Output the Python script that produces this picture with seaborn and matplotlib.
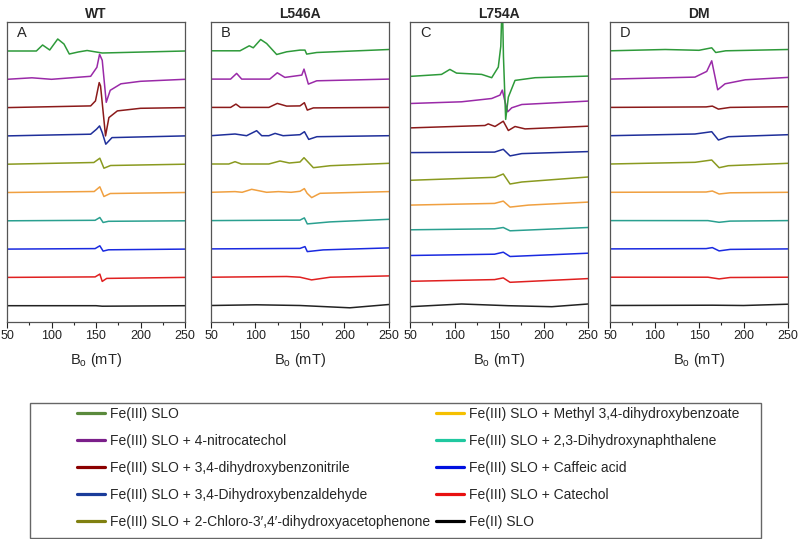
import matplotlib.pyplot as plt
import pandas as pd
import seaborn as sns
from matplotlib.lines import Line2D
from matplotlib.patches import Rectangle
from matplotlib.ticker import MultipleLocator

sns.set_style('ticks')
plt.rcParams['font.family'] = ['Liberation Sans', 'DejaVu Sans']

# sample keys, legend labels and colours (top trace first)
keys = ['FeIII', 'nitro', 'nitrile', 'aldehyde', 'chloro',
        'methyl', 'naphth', 'caffeic', 'catechol', 'FeII']
labels = ['Fe(III) SLO',
          'Fe(III) SLO + 4-nitrocatechol',
          'Fe(III) SLO + 3,4-dihydroxybenzonitrile',
          'Fe(III) SLO + 3,4-Dihydroxybenzaldehyde',
          'Fe(III) SLO + 2-Chloro-3\u2032,4\u2032-dihydroxyacetophenone',
          'Fe(III) SLO + Methyl 3,4-dihydroxybenzoate',
          'Fe(III) SLO + 2,3-Dihydroxynaphthalene',
          'Fe(III) SLO + Caffeic acid',
          'Fe(III) SLO + Catechol',
          'Fe(II) SLO']
trace_colors = ['#2e9a3a', '#9a2aa8', '#8b1a1a', '#1f2f9a', '#8a9a20',
                '#f0a040', '#2aa090', '#1a2ae0', '#e02020', '#222222']
legend_colors = ['#5a8a3c', '#7b1f8a', '#8b0000', '#1a3c9a', '#808010',
                 '#f5c000', '#20c8a0', '#0010e0', '#e81010', '#000000']
titles = ['WT', 'L546A', 'L754A', 'DM']
letters = ['A', 'B', 'C', 'D']

# spectra: (field in mT, signal in a.u.)
wt = {
    'FeIII': ([50, 83, 90, 98, 107, 114, 120, 130, 140, 157, 250],
              [0, 0, 6, 1, 12, 7, -3, -1, 0.5, -2, 0]),
    'nitro': ([50, 78, 100, 144, 151, 154, 157, 161.5, 166, 178, 200, 250],
              [0, 1.5, 0, 3, 12, 25, 19, -23, -11, -4.5, -2, 0]),
    'nitrile': ([50, 144, 149.4, 153.6, 155.1, 160.7, 164.5, 174, 200, 250],
                [0, 1.7, 6.7, 25, 21.7, -28.3, -10, -3.3, -0.7, 0]),
    'aldehyde': ([50, 104, 144, 150.6, 154, 157, 161, 168, 250],
                 [0, 1, 1.7, 6.7, 10, 3.3, -8.3, -1.7, 0]),
    'chloro': ([50, 147.6, 154.3, 158.9, 166.4, 250],
               [0, 1.7, 6, -4, -1.3, 0]),
    'methyl': ([50, 148, 154.3, 158.9, 166, 250],
               [0, 1, 5.7, -4, -1, 0]),
    'naphth': ([50, 149, 154.3, 158, 164, 250],
               [0, 0.5, 3.3, -1.7, -0.5, 0]),
    'caffeic': ([50, 149, 154.3, 158, 164, 250],
                [0, 0.5, 3.3, -2, -0.7, 0]),
    'catechol': ([50, 149, 154.3, 157, 162, 250],
                 [0, 0.5, 3.3, -4, -1, 0]),
    'FeII': ([50, 150, 157, 250],
             [0, 0, -0.5, 0]),
}

l546a = {
    'FeIII': ([50, 82.6, 93, 97.5, 105.8, 112.5, 123.8, 135, 150, 155.6, 157.5, 168.8, 250],
              [0, 0, 5, 3, 11.3, 7.3, -3.7, -1, 0.7, 0.7, -3.3, -1.7, 1.3]),
    'nitro': ([50, 72, 78.8, 84.5, 116, 124.5, 133, 152, 154.5, 159.4, 168.8, 250],
              [0, 0, 5.7, 0, 0, 6.3, 1.7, 4, 10, -5, -1.7, 0]),
    'nitrile': ([50, 72, 78, 83, 115, 124.5, 135, 150, 154.9, 158.2, 165, 250],
                [0, 0, 3.3, 0, 0, 4, 1.3, 1.5, 4.7, -2.7, -0.5, 0]),
    'aldehyde': ([50, 77, 90, 101.3, 107, 115, 122, 131, 150, 155, 159.8, 169, 250],
                 [0, 1.7, 0, 5, 0, 0, 2.3, 0, 1, 4, -3.7, -1, 0]),
    'chloro': ([50, 70, 77, 84, 115, 127.5, 138, 150, 154.5, 165, 184, 250],
               [0, 0, 2.3, 0, 0, 3, 1, 2, 6.3, -3.7, -1.7, 0.7]),
    'methyl': ([50, 77, 85, 95.7, 112.5, 125.7, 140, 150, 154.9, 158, 163.1, 172.5, 250],
               [0, 0.7, 0, 3, 0, 0.7, 0, 1, 3.7, -1, -5.3, -1, 0.7]),
    'naphth': ([50, 150, 154.9, 158.2, 183.7, 250],
               [0, 0.5, 2.7, -3.3, -1.3, 1.3]),
    'caffeic': ([50, 150, 155.6, 158.2, 176, 250],
                [0, 0.5, 2.3, -2.7, -1, 1]),
    'catechol': ([50, 135, 150, 163, 184, 250],
                 [0, 0.7, 0, -2.7, 0, 1.3]),
    'FeII': ([50, 101, 150, 206, 250],
             [0, 0.7, 0, -2.3, 1]),
}

l754a = {
    'FeIII': ([50, 85.4, 94.8, 102.3, 130.5, 141.8, 149.2, 152, 153.7, 155, 157.5, 160.5, 168, 190.6, 250],
              [0, 2, 7, 3.3, 2, -1.3, 9.3, 30, 80, 20, -43, -20.7, -4, -1.3, 0.3]),
    'nitro': ([50, 107.9, 141.8, 151.1, 153.7, 156.8, 159.8, 164.3, 175.6, 250],
              [-1.7, 0, 3.3, 6.7, 11.7, 0, -10, -6, -2.7, 0.7]),
    'nitrile': ([50, 134.2, 137.9, 145.5, 154.8, 160.5, 168, 179.3, 250],
                [-0.7, 1.7, 3.3, 0.7, 6, -3.3, 0.7, -1.7, 1]),
    'aldehyde': ([50, 145, 154.8, 162.4, 175.6, 250],
                 [0, 0.5, 3.3, -3.3, -1, 1]),
    'chloro': ([50, 145.5, 154.8, 162.4, 175.6, 250],
               [-2.3, 0.7, 4, -6, -4, 1]),
    'methyl': ([50, 145, 154.8, 162.4, 183, 250],
               [-1.7, 0, 2.3, -3.7, -1.7, 1.3]),
    'naphth': ([50, 145, 154.8, 162.4, 250],
               [-1, 0, 1.3, -2, 1.3]),
    'caffeic': ([50, 145, 154.8, 162.4, 250],
                [-1.3, 0, 2, -2.3, 1]),
    'catechol': ([50, 145, 154.8, 162.4, 250],
                 [-1.7, 0, 1.7, -2.7, 1]),
    'FeII': ([50, 108, 160.5, 209.4, 250],
             [-1.7, 1, -0.7, -1.7, 1]),
}

dm = {
    'FeIII': ([50, 112, 150, 164.3, 168.8, 180, 250],
              [0, 1.3, 0.5, 3, -1.7, 0, 1.3]),
    'nitro': ([50, 145.5, 158.7, 164.3, 171, 179.3, 202, 250],
              [0, 2, 7.7, 18.3, -10.7, -4.7, -0.7, 1.7]),
    'nitrile': ([50, 158, 165, 171.8, 185, 250],
                [0, 0.5, 1.3, -1.7, 0, 0.7]),
    'aldehyde': ([50, 145.5, 164.3, 171.8, 183, 250],
                 [0, 1.7, 4, -4.3, -1, 1]),
    'chloro': ([50, 145.5, 164.3, 172.6, 183, 250],
               [0, 1.7, 4, -3.7, -1.7, 0.7]),
    'methyl': ([50, 158, 165, 172.6, 185, 250],
               [0, 0.3, 1.3, -1.7, -0.5, 0]),
    'naphth': ([50, 160, 172.6, 185, 250],
               [0, 0, -1.7, -0.5, 0]),
    'caffeic': ([50, 158, 165, 172.6, 185, 250],
                [0, 0.3, 1.3, -2, -0.5, 0]),
    'catechol': ([50, 160, 172.6, 185, 250],
                 [0, 0, -1.7, -0.3, 0]),
    'FeII': ([50, 165, 200, 250],
             [0, 0.3, 0, 1.3]),
}

panels = [wt, l546a, l754a, dm]
# vertical stacking of the traces (bottom offset, spacing) per panel
stack = [(16.3, 28.3), (16.5, 28.3), (17, 25.4), (16.5, 28.3)]

fig = plt.figure(figsize=(8, 5.39), dpi=100)
lefts = [7, 211, 410, 610]
palette = dict(zip(keys, trace_colors))

for i, spectra in enumerate(panels):
    ax = fig.add_axes([lefts[i] / 800, 1 - 322 / 539, 178 / 800, 300 / 539])
    base, step = stack[i]
    rows = []
    for j, k in enumerate(keys):
        off = base + step * (9 - j)
        for b, s in zip(*spectra[k]):
            rows.append({'sample': k, 'field': b, 'y': s + off})
    df = pd.DataFrame(rows)

    sns.lineplot(data=df, x='field', y='y', hue='sample', hue_order=keys[::-1],
                 palette=palette, estimator=None, sort=False, legend=False,
                 lw=1.1, ax=ax)

    ax.set_xlim(50, 250)
    ax.set_ylim(0, 300)
    ax.set_yticks([])
    ax.set_ylabel('')
    ax.xaxis.set_major_locator(MultipleLocator(50))
    ax.xaxis.set_minor_locator(MultipleLocator(25))
    ax.tick_params(axis='x', which='major', direction='out', length=4,
                   width=0.8, labelsize=9, pad=2, colors='#222222')
    ax.tick_params(axis='x', which='minor', direction='out', length=2.5, width=0.8)
    for sp in ax.spines.values():
        sp.set_color('#555555')
        sp.set_linewidth(0.9)
    ax.set_xlabel(r'B$_\mathregular{o}$ (mT)', fontsize=10.5, labelpad=6)
    ax.set_title(titles[i], fontweight='bold', fontsize=10, pad=3)
    ax.text(0.055, 0.963, letters[i], transform=ax.transAxes,
            fontsize=10.5, va='center', ha='left')

# legend below the panels
handles = [Line2D([], [], color=c, lw=2.3) for c in legend_colors]
fig.legend(handles, labels, loc='upper left',
           bbox_to_anchor=(77 / 800, 1 - 407 / 539), ncol=2, frameon=False,
           fontsize=10, handlelength=2.0, handletextpad=0.35,
           columnspacing=0.45, labelspacing=0.93, borderpad=0,
           borderaxespad=0)
fig.patches.append(Rectangle((30 / 800, 1 - 538 / 539), 731 / 800, 135 / 539,
                             transform=fig.transFigure, fill=False,
                             edgecolor='#666666', lw=1))

fig.savefig('out.png', dpi=100)
